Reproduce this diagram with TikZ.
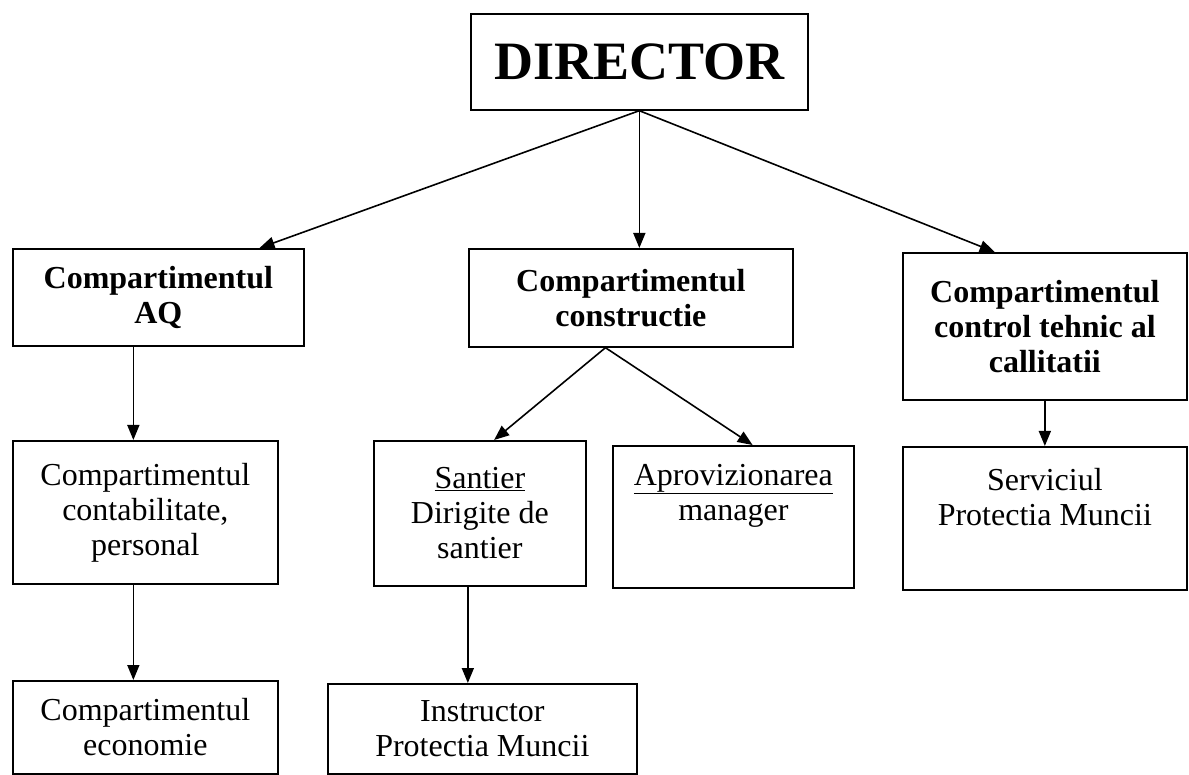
\documentclass[tikz,border=0pt]{standalone}
\usepackage{fontspec}
\setmainfont{Liberation Serif}
\usetikzlibrary{arrows.meta}
\tikzset{
  orgbox/.style={draw, line width=1.7pt, inner sep=0pt, anchor=north west},
  link/.style={-{Triangle[length=15pt,width=12pt]}, line width=1.6pt}
}
\newcommand{\orgfont}{\fontsize{32}{35}\selectfont}
\begin{document}
\begin{tikzpicture}[x=1pt,y=-1pt]
  \useasboundingbox (0,0) rectangle (1189,775);
  % top level
  \node[orgbox] (dir) at (470,13) {\parbox[c][96pt][c]{337pt}{\centering\fontsize{54}{58}\selectfont\bfseries DIRECTOR}};
  % departments
  \node[orgbox] (aq) at (12,248) {\parbox[c][97pt][c]{291pt}{\centering\orgfont\bfseries Compartimentul\\AQ}};
  \node[orgbox] (cons) at (468,248) {\parbox[c][98pt][c]{324pt}{\centering\orgfont\bfseries Compartimentul\\constructie}};
  \node[orgbox] (ctrl) at (902,252) {\parbox[c][147pt][c]{284pt}{\centering\orgfont\bfseries Compartimentul\\control tehnic al\\callitatii}};
  % second row
  \node[orgbox] (contab) at (12,440) {\parbox[c][143pt][c]{265pt}{\centering\orgfont Compartimentul\\contabilitate,\\personal}};
  \node[orgbox] (sant) at (373,440) {\parbox[c][145pt][c]{212pt}{\centering\orgfont\underline{Santier}\\Dirigite de\\santier}};
  \node[orgbox] (aprov) at (612,445) {\parbox[c][142pt][t]{241pt}{\centering\orgfont\vspace*{18pt}\underline{Aprovizionarea}\\manager}};
  \node[orgbox] (serv) at (902,446) {\parbox[c][143pt][t]{284pt}{\centering\orgfont\vspace*{21pt}Serviciul\\Protectia Muncii}};
  % third row
  \node[orgbox] (econ) at (12,680) {\parbox[c][93pt][c]{265pt}{\centering\orgfont Compartimentul\\economie}};
  \node[orgbox] (instr) at (327,683) {\parbox[c][90pt][c]{309pt}{\centering\orgfont Instructor\\Protectia Muncii}};
  % links
  \draw[link] (dir.south) -- (aq.26);
  \draw[link] (dir.south) -- (dir.south |- cons.north);
  \draw[link] (dir.south) -- (ctrl.124);
  \draw[link] (cons.243) -- (sant.79);
  \draw[link] (cons.243) -- (aprov.75);
  \draw[link] ([xshift=-12pt]contab.north |- aq.south) -- ([xshift=-12pt]contab.north);
  \draw[link] ([xshift=-12pt]contab.south) -- ([xshift=-12pt]contab.south |- econ.north);
  \draw[link] ([xshift=-12pt]sant.south) -- ([xshift=-12pt]sant.south |- instr.north);
  \draw[link] (ctrl.south) -- (ctrl.south |- serv.north);
\end{tikzpicture}
\end{document}
